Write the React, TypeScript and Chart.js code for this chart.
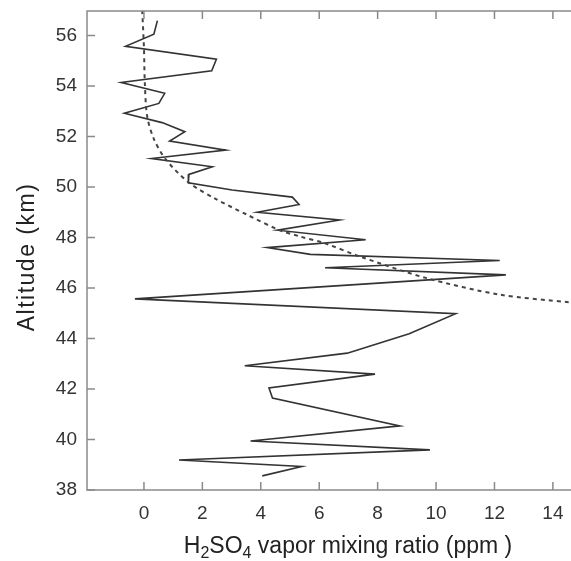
import React, { useEffect, useRef } from "react";
import { Chart, registerables } from "chart.js";

Chart.register(...registerables);

// Measured H2SO4 vapor profile (x = ppm, y = altitude km), top to bottom
const measuredPpm = [
  0.46, 0.34, -0.63, 2.48, 2.32, -0.78, 0.71, 0.51, -0.67, 0.62, 1.4, 0.88, 2.8, 0.26, 2.34, 1.54, 1.52,
  3.02, 5.08, 5.31, 3.88, 6.7, 4.57, 7.59, 4.22, 5.7, 12.18, 6.2, 12.39, -0.31, 10.67, 9.08, 6.96, 3.45,
  7.91, 4.28, 4.4, 8.76, 3.65, 9.79, 1.2, 5.4, 4.05,
];
const measuredAlt = [
  56.59, 56.05, 55.57, 55.06, 54.6, 54.14, 53.71, 53.31, 52.92, 52.55, 52.19, 51.82, 51.46, 51.13, 50.8,
  50.5, 50.17, 49.88, 49.6, 49.31, 49.0, 48.69, 48.29, 47.91, 47.6, 47.33, 47.09, 46.8, 46.52, 45.57,
  44.98, 44.19, 43.42, 42.92, 42.59, 42.04, 41.64, 40.54, 39.94, 39.59, 39.19, 38.93, 38.56,
];

// Saturation (dashed) curve
const saturationPpm = [-0.06, 0.0, 0.03, 0.11, 0.34, 0.74, 1.54, 2.45, 3.5, 4.62, 5.31, 6.22, 7.36, 9.65, 12.16, 14.59];
const saturationAlt = [57.0, 55.5, 54.1, 52.8, 51.9, 51.1, 50.17, 49.53, 48.92, 48.3, 48.05, 47.76, 47.26, 46.4, 45.74, 45.43];

const xTicks = [0, 2, 4, 6, 8, 10, 12, 14];
const yTicks = [38, 40, 42, 44, 46, 48, 50, 52, 54, 56];

const X_MIN = -1.95;
const X_MAX = 14.62;
const Y_MIN = 38;
const Y_MAX = 56.97;

const FONT = "'Liberation Sans', Arial, Helvetica, sans-serif";

const framePlugin = {
  id: "framePlugin",
  afterDraw(chart: any) {
    const { ctx, chartArea } = chart;
    const xs = chart.scales.x;
    const ys = chart.scales.y;
    const { left, right, top, bottom } = chartArea;
    ctx.save();
    ctx.strokeStyle = "#8a8a8a";
    ctx.lineWidth = 1.5;
    ctx.beginPath();
    ctx.moveTo(right + 2, top);
    ctx.lineTo(left, top);
    ctx.lineTo(left, bottom);
    ctx.lineTo(right + 2, bottom);
    ctx.stroke();
    const tl = 8;
    ctx.beginPath();
    xTicks.forEach((v) => {
      const px = xs.getPixelForValue(v);
      ctx.moveTo(px, bottom);
      ctx.lineTo(px, bottom - tl);
      ctx.moveTo(px, top);
      ctx.lineTo(px, top + tl);
    });
    yTicks.forEach((v) => {
      const py = ys.getPixelForValue(v);
      ctx.moveTo(left, py);
      ctx.lineTo(left + tl, py);
    });
    ctx.stroke();

    // x-axis title with subscripts
    const parts: [string, boolean][] = [
      ["H", false],
      ["2", true],
      ["SO", false],
      ["4", true],
      [" vapor mixing ratio (ppm )", false],
    ];
    const mainFont = `23px ${FONT}`;
    const subFont = `16px ${FONT}`;
    let total = 0;
    parts.forEach(([t, sub]) => {
      ctx.font = sub ? subFont : mainFont;
      total += ctx.measureText(t).width;
    });
    let cx = 348 - total / 2;
    const baseY = 553;
    ctx.fillStyle = "#222";
    ctx.textAlign = "left";
    ctx.textBaseline = "alphabetic";
    parts.forEach(([t, sub]) => {
      ctx.font = sub ? subFont : mainFont;
      ctx.fillText(t, cx, sub ? baseY + 5 : baseY);
      cx += ctx.measureText(t).width;
    });

    // y-axis title
    ctx.save();
    ctx.translate(34, 257);
    ctx.rotate(-Math.PI / 2);
    ctx.font = `23px ${FONT}`;
    try {
      (ctx as any).letterSpacing = "1.5px";
    } catch (e) {}
    ctx.textAlign = "center";
    ctx.textBaseline = "alphabetic";
    ctx.fillText("Altitude (km)", 0, 0);
    ctx.restore();
    ctx.restore();
  },
};

export default function App() {
  const ref = useRef<HTMLCanvasElement | null>(null);
  useEffect(() => {
    document.body.style.margin = "0";
    if (!ref.current) return;
    const measured = measuredPpm.map((x, i) => ({ x, y: measuredAlt[i] }));
    const saturation = saturationPpm.map((x, i) => ({ x, y: saturationAlt[i] }));
    const chart = new Chart(ref.current, {
      type: "scatter",
      data: {
        datasets: [
          {
            data: saturation,
            showLine: true,
            borderColor: "#444",
            borderWidth: 2,
            borderDash: [4, 4],
            pointRadius: 0,
            tension: 0.3,
            fill: false,
          },
          {
            data: measured,
            showLine: true,
            borderColor: "#333",
            borderWidth: 1.6,
            pointRadius: 0,
            tension: 0,
            fill: false,
          },
        ],
      },
      options: {
        animation: false,
        responsive: false,
        layout: { padding: { top: 11, right: 0, left: 0, bottom: 0 } },
        plugins: {
          legend: { display: false },
          tooltip: { enabled: false },
          title: { display: false },
        },
        scales: {
          x: {
            type: "linear",
            min: X_MIN,
            max: X_MAX,
            grid: { display: false, drawTicks: false },
            border: { display: false },
            afterBuildTicks: (s: any) => {
              s.ticks = xTicks.map((v) => ({ value: v }));
            },
            afterFit: (s: any) => {
              s.height = 71;
              s.paddingLeft = 0;
              s.paddingRight = 0;
            },
            ticks: {
              padding: 12,
              maxRotation: 0,
              autoSkip: false,
              color: "#333",
              font: { family: FONT, size: 19 },
            },
          },
          y: {
            type: "linear",
            min: Y_MIN,
            max: Y_MAX,
            grid: { display: false, drawTicks: false },
            border: { display: false },
            afterBuildTicks: (s: any) => {
              s.ticks = yTicks.map((v) => ({ value: v }));
            },
            afterFit: (s: any) => {
              s.width = 87;
              s.paddingTop = 0;
              s.paddingBottom = 0;
            },
            ticks: {
              padding: 10,
              autoSkip: false,
              color: "#333",
              font: { family: FONT, size: 19 },
            },
          },
        },
      },
      plugins: [framePlugin],
    });
    return () => chart.destroy();
  }, []);
  return (
    <div style={{ width: 571, height: 561 }}>
      <canvas ref={ref} width={571} height={561} style={{ display: "block" }} />
    </div>
  );
}
